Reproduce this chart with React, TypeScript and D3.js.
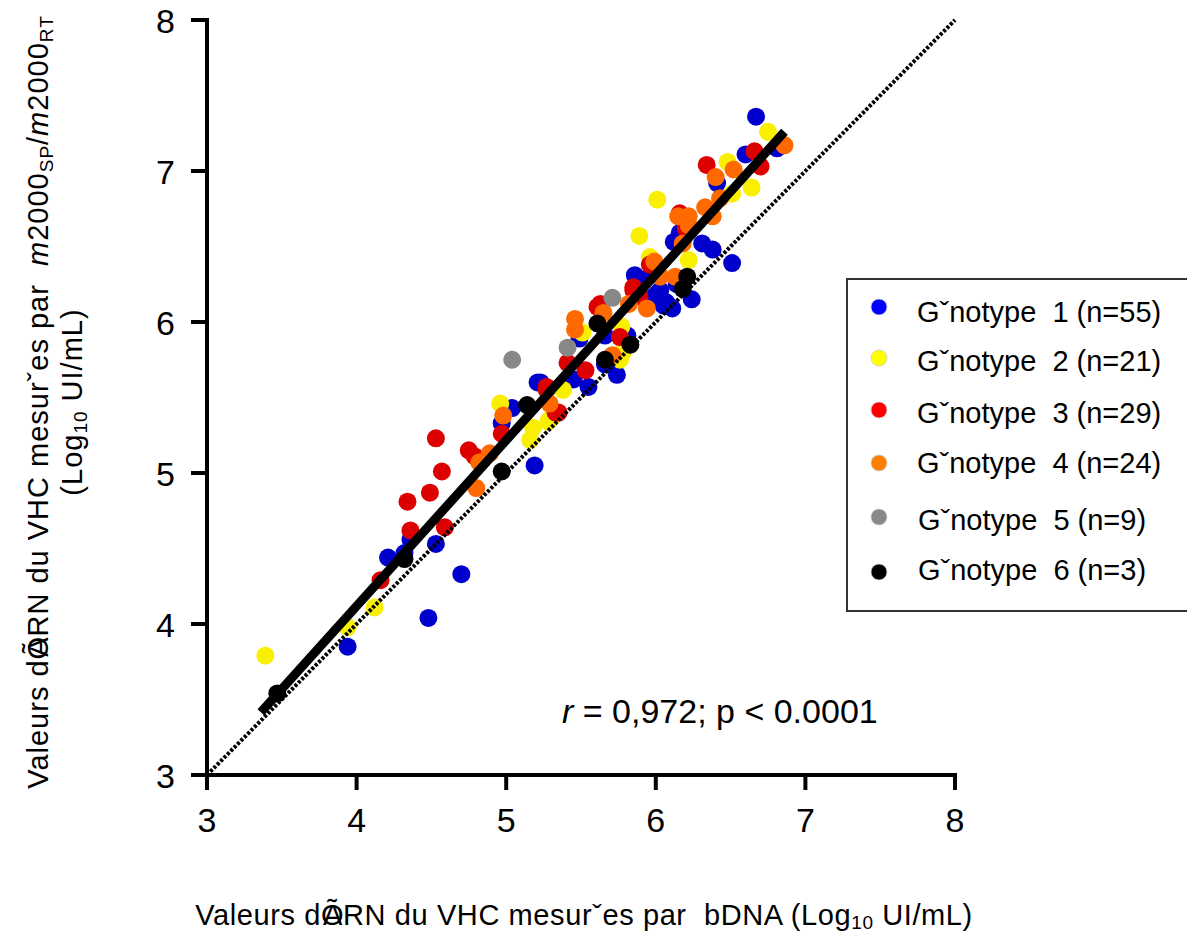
import React from "react";
import * as d3 from "d3";

// points: [bDNA, m2000] in log10 UI/mL
const genotype1: [number, number][] = [
  [3.94, 3.85], [4.21, 4.44], [4.32, 4.47], [4.53, 4.53], [4.70, 4.33], [4.48, 4.04],
  [5.19, 5.05], [5.04, 5.43], [4.97, 5.33], [5.21, 5.60], [5.49, 5.89], [5.66, 5.91],
  [5.81, 5.91], [6.05, 6.11], [6.01, 6.19], [5.45, 5.62], [5.55, 5.57], [5.23, 5.60],
  [5.66, 5.72], [5.74, 5.65], [6.16, 6.59], [6.12, 6.53], [6.31, 6.52], [6.38, 6.48],
  [6.51, 6.39], [5.86, 6.31], [6.03, 6.21], [5.99, 6.17], [6.07, 6.13], [6.11, 6.09],
  [6.24, 6.15], [6.67, 7.36], [6.81, 7.15], [6.60, 7.11], [6.41, 6.92], [6.19, 6.60],
  [6.14, 6.25], [5.92, 6.28], [4.36, 4.56],
];
const genotype2: [number, number][] = [
  [3.39, 3.79], [3.94, 3.98], [4.12, 4.11], [4.96, 5.46], [5.18, 5.30], [5.16, 5.22],
  [5.28, 5.34], [5.38, 5.55], [5.51, 5.93], [5.77, 5.97], [5.76, 5.75], [6.01, 6.81],
  [5.89, 6.57], [6.22, 6.41], [5.96, 6.43], [6.75, 7.26], [6.48, 7.06], [6.64, 6.89],
  [6.51, 6.85], [5.30, 5.36], [5.78, 5.80],
];
const genotype3: [number, number][] = [
  [4.16, 4.29], [4.36, 4.62], [4.59, 4.64], [4.53, 5.23], [4.57, 5.01], [4.49, 4.87],
  [4.34, 4.81], [4.75, 5.15], [4.79, 5.11], [4.97, 5.26], [5.33, 5.40], [5.27, 5.55],
  [5.63, 6.12], [5.76, 5.90], [5.85, 6.23], [5.41, 5.73], [5.53, 5.68], [5.27, 5.57],
  [5.35, 5.40], [6.16, 6.72], [5.96, 6.38], [5.85, 6.21], [5.89, 6.17], [6.34, 7.04],
  [6.66, 7.13], [6.70, 7.03], [5.61, 6.10], [6.20, 6.62],
];
const genotype4: [number, number][] = [
  [4.82, 5.07], [4.89, 5.13], [4.80, 4.90], [4.98, 5.38], [5.29, 5.46], [5.46, 6.02],
  [5.46, 5.95], [5.65, 6.06], [5.94, 6.09], [5.71, 5.78], [6.15, 6.70], [6.22, 6.70],
  [6.33, 6.76], [6.38, 6.70], [6.43, 6.82], [6.18, 6.52], [5.99, 6.40], [6.03, 6.30],
  [6.13, 6.30], [6.86, 7.17], [6.52, 7.01], [6.40, 6.96], [6.22, 6.64], [5.82, 6.12],
];
const genotype5: [number, number][] = [[5.04, 5.75], [5.41, 5.83], [5.71, 6.16]];
const genotype6: [number, number][] = [
  [3.47, 3.54], [4.32, 4.43], [4.97, 5.01], [5.14, 5.45], [5.61, 5.99], [5.66, 5.75],
  [5.83, 5.85], [6.21, 6.30], [6.18, 6.22],
];

const legendLabels = [
  "G\u02c7notype\u00a0\u00a01 (n=55)",
  "G\u02c7notype\u00a0\u00a02 (n=21)",
  "G\u02c7notype\u00a0\u00a03 (n=29)",
  "G\u02c7notype\u00a0\u00a04 (n=24)",
  "G\u02c7notype\u00a0\u00a05 (n=9)",
  "G\u02c7notype\u00a0\u00a06 (n=3)",
];
const colors = ["#0000cc", "#f8f000", "#dd0000", "#ff6a00", "#888888", "#000000"];
const legendColors = ["#0000ff", "#ffff00", "#ff0000", "#ff8000", "#888888", "#000000"];
const ticks = [3, 4, 5, 6, 7, 8];

// regression: y = slope * x + intercept, drawn between these x
const slope = 1.098;
const intercept = -0.273;
const fitRange = [3.36, 6.86];

const series = [genotype1, genotype2, genotype3, genotype4, genotype5, genotype6];

const font = "'Liberation Sans', Arial, sans-serif";

const App = () => {
  const x = d3.scaleLinear().domain([3, 8]).range([207, 955]);
  const y = d3.scaleLinear().domain([3, 8]).range([775, 20]);

  const line = d3.line<[number, number]>().x(d => x(d[0])).y(d => y(d[1]));
  const fit: [number, number][] = fitRange.map(v => [v, slope * v + intercept]);
  const identity: [number, number][] = [[3, 3], [8, 8]];

  const legendY = [307, 358, 410, 463, 517, 572];
  const legendBase = [322, 371, 423, 473, 530, 580];

  return (
    <svg width={1187} height={933} style={{ position: "absolute", left: 0, top: 0 }} fontFamily={font}>
      <rect width={1187} height={933} fill="#fff" />

      {/* points */}
      {series.map((pts, i) => (
        <g key={i} fill={colors[i]}>
          {pts.map((p, j) => (
            <circle key={j} cx={x(p[0])} cy={y(p[1])} r={9} />
          ))}
        </g>
      ))}

      {/* identity line (dotted) and regression line */}
      <path d={line(identity) || ""} stroke="#000" strokeWidth={4} strokeDasharray="3 1.8" fill="none" />
      <path d={line(fit) || ""} stroke="#000" strokeWidth={9} fill="none" />

      {/* axes */}
      <g stroke="#000" strokeWidth={4}>
        <line x1={x(3)} x2={x(8) + 2} y1={y(3)} y2={y(3)} />
        <line x1={x(3)} x2={x(3)} y1={y(3) + 2} y2={y(8) - 2} />
        {ticks.map(t => (
          <line key={"xt" + t} x1={x(t)} x2={x(t)} y1={y(3)} y2={y(3) + 15} />
        ))}
        {ticks.map(t => (
          <line key={"yt" + t} x1={x(3) - 16} x2={x(3)} y1={y(t)} y2={y(t)} />
        ))}
      </g>
      <g fontSize={34} fill="#000">
        {ticks.map(t => (
          <text key={"xl" + t} x={x(t)} y={832} textAnchor="middle">{t}</text>
        ))}
        {ticks.map(t => (
          <text key={"yl" + t} x={175} y={y(t) + 13} textAnchor="end">{t}</text>
        ))}
      </g>

      {/* axis titles */}
      <text x={584} y={925} fontSize={29} letterSpacing={0.6} textAnchor="middle">
        Valeurs d{"\u00d5"}<tspan dx={-21}>ARN du VHC mesur{"\u02c7"}es par{"\u00a0\u00a0"}bDNA (Log</tspan>
        <tspan fontSize={19} dy={4}>10</tspan>
        <tspan dy={-4}>{"\u00a0"}UI/mL)</tspan>
      </text>
      <text transform="translate(48,402) rotate(-90)" fontSize={29} letterSpacing={1} textAnchor="middle">
        Valeurs d{"\u00d5"}<tspan dx={-21}>ARN du VHC mesur{"\u02c7"}es par{"\u00a0\u00a0"}</tspan>
        <tspan fontStyle="italic">m</tspan>2000
        <tspan fontSize={19} dy={5}>SP</tspan>
        <tspan dy={-5}>/</tspan>
        <tspan fontStyle="italic">m</tspan>2000
        <tspan fontSize={19} dy={5}>RT</tspan>
      </text>
      <text transform="translate(82,402) rotate(-90)" fontSize={29} letterSpacing={1} textAnchor="middle">
        (Log<tspan fontSize={19} dy={5}>10</tspan>
        <tspan dy={-5}>{"\u00a0"}UI/mL)</tspan>
      </text>

      {/* annotation */}
      <text x={562} y={723} fontSize={34}>
        <tspan fontStyle="italic">r</tspan> = 0,972; p &lt; 0.0001
      </text>

      {/* legend */}
      <rect x={847} y={279} width={360} height={332} fill="#fff" stroke="#333" strokeWidth={2} />
      {legendLabels.map((l, i) => (
        <g key={l}>
          <circle cx={879} cy={legendY[i]} r={8} fill={legendColors[i]} stroke="#ccc" strokeWidth={0.8} />
          <text x={i < 4 ? 917 : 918} y={legendBase[i]} fontSize={29}>{l}</text>
        </g>
      ))}
    </svg>
  );
};

export default App;
